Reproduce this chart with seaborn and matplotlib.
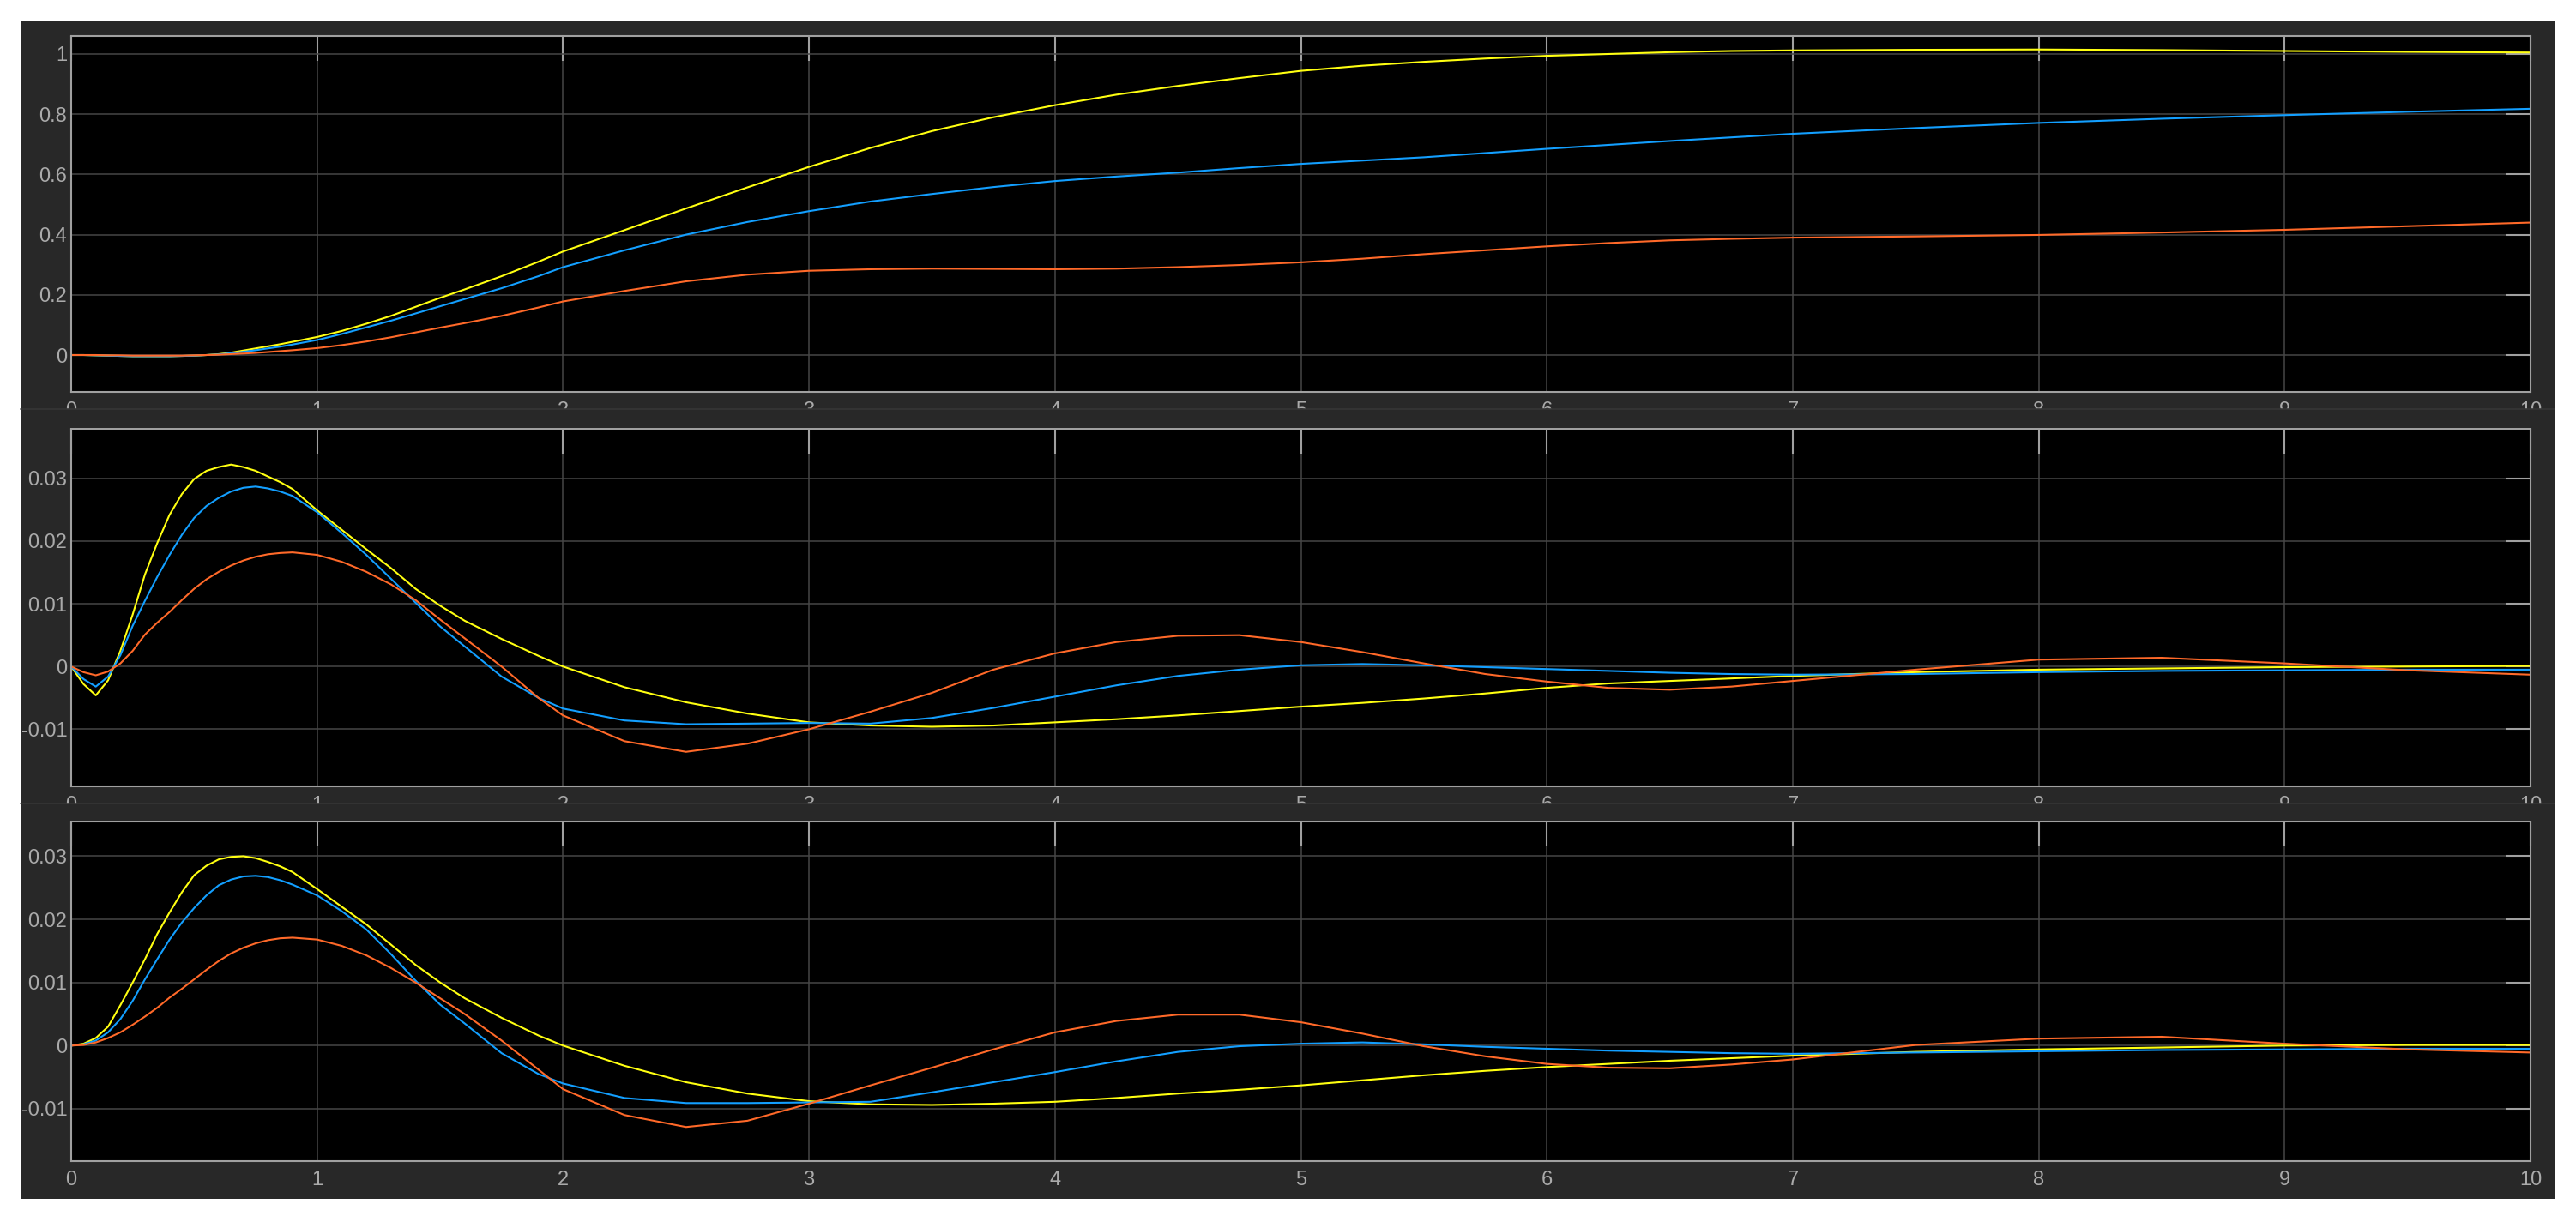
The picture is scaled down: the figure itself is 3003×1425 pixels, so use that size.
import seaborn as sns
import matplotlib.pyplot as plt
from matplotlib.patches import Rectangle
from matplotlib.lines import Line2D

# time axis (s), shared by all three scope panels
time = [0, 0.05, 0.1, 0.15, 0.2, 0.25, 0.3, 0.35, 0.4, 0.45,
        0.5, 0.55, 0.6, 0.65, 0.7, 0.75, 0.8, 0.85, 0.9, 1.0,
        1.1, 1.2, 1.3, 1.4, 1.5, 1.6, 1.75, 1.9, 2.0, 2.25,
        2.5, 2.75, 3.0, 3.25, 3.5, 3.75, 4.0, 4.25, 4.5, 4.75,
        5.0, 5.25, 5.5, 5.75, 6.0, 6.25, 6.5, 6.75, 7.0, 7.5,
        8.0, 8.5, 9.0, 9.5, 10.0]

# top panel
top_yellow = [0, 0, -0.001, -0.002, -0.003, -0.004, -0.004, -0.004, -0.004, -0.003,
              -0.002, 0.0, 0.003, 0.008, 0.015, 0.022, 0.029, 0.036, 0.044, 0.06,
              0.08, 0.104, 0.13, 0.16, 0.19, 0.218, 0.262, 0.31, 0.344, 0.415,
              0.487, 0.557, 0.625, 0.688, 0.744, 0.79, 0.83, 0.865, 0.894, 0.92,
              0.944, 0.961, 0.974, 0.985, 0.994, 1.0, 1.006, 1.01, 1.012, 1.014,
              1.015, 1.013, 1.01, 1.007, 1.005]
top_blue = [0, 0, -0.001, -0.002, -0.003, -0.004, -0.004, -0.004, -0.004, -0.003,
            -0.002, 0.0, 0.002, 0.006, 0.011, 0.016, 0.022, 0.028, 0.035, 0.05,
            0.07, 0.092, 0.114, 0.138, 0.162, 0.186, 0.222, 0.262, 0.292, 0.348,
            0.40, 0.442, 0.478, 0.51, 0.535, 0.558, 0.578, 0.593, 0.606, 0.621,
            0.635, 0.646, 0.657, 0.671, 0.685, 0.698, 0.711, 0.723, 0.735, 0.754,
            0.771, 0.785, 0.797, 0.808, 0.818]
top_orange = [0, 0, 0, -0.001, -0.001, -0.002, -0.002, -0.002, -0.002, -0.002,
              -0.001, 0.0, 0.001, 0.003, 0.005, 0.007, 0.01, 0.013, 0.016, 0.023,
              0.033, 0.045, 0.059, 0.075, 0.091, 0.106, 0.13, 0.158, 0.178, 0.213,
              0.245, 0.267, 0.28, 0.285, 0.287, 0.286, 0.285, 0.287, 0.292, 0.299,
              0.308, 0.32, 0.335, 0.348, 0.361, 0.372, 0.381, 0.386, 0.39, 0.394,
              0.399, 0.407, 0.416, 0.428, 0.44]

# middle panel
mid_yellow = [0, -0.0028, -0.0046, -0.0022, 0.0025, 0.0083, 0.0147, 0.0197, 0.0242, 0.0275,
              0.0299, 0.0312, 0.0318, 0.0322, 0.0318, 0.0312, 0.0303, 0.0294, 0.0283, 0.0249,
              0.0218, 0.0187, 0.0157, 0.0124, 0.0097, 0.0073, 0.0044, 0.0017, 0.0, -0.0033,
              -0.0057, -0.0075, -0.0089, -0.0094, -0.0096, -0.0094, -0.0089, -0.0084, -0.0078, -0.0071,
              -0.0064, -0.0058, -0.0051, -0.0043, -0.0034, -0.0027, -0.0023, -0.0019, -0.0015, -0.0009,
              -0.0005, -0.0003, -0.0001, 0.0, 0.0001]
mid_blue = [0, -0.002, -0.0032, -0.0016, 0.0018, 0.0065, 0.0105, 0.0143, 0.0178, 0.021,
            0.0237, 0.0256, 0.0269, 0.0279, 0.0285, 0.0287, 0.0284, 0.0279, 0.0272, 0.0246,
            0.0213, 0.0178, 0.0140, 0.0102, 0.0064, 0.0032, -0.0016, -0.0050, -0.0067, -0.0086,
            -0.0092, -0.0091, -0.009, -0.0091, -0.0082, -0.0066, -0.0048, -0.003, -0.0015, -0.0005,
            0.0002, 0.0004, 0.0002, -0.0001, -0.0004, -0.0007, -0.001, -0.0012, -0.0013, -0.0012,
            -0.0009, -0.0007, -0.0006, -0.0005, -0.0005]
mid_orange = [0, -0.0009, -0.0014, -0.0008, 0.0005, 0.0025, 0.0051, 0.007, 0.0087, 0.0106,
              0.0124, 0.0139, 0.0151, 0.0161, 0.0169, 0.0175, 0.0179, 0.0181, 0.0182, 0.0178,
              0.0167, 0.0151, 0.0131, 0.0106, 0.0075, 0.0045, 0.0, -0.0050, -0.0078, -0.0119,
              -0.0136, -0.0123, -0.010, -0.0072, -0.0042, -0.0005, 0.0021, 0.0039, 0.0049, 0.0050,
              0.0039, 0.0023, 0.0005, -0.0012, -0.0024, -0.0034, -0.0037, -0.0032, -0.0023, -0.0005,
              0.0011, 0.0014, 0.0005, -0.0006, -0.0013]

# bottom panel
bot_yellow = [0, 0.0003, 0.0012, 0.003, 0.0064, 0.01, 0.0137, 0.0177, 0.0211, 0.0243,
              0.027, 0.0285, 0.0295, 0.0299, 0.03, 0.0297, 0.0291, 0.0284, 0.0275, 0.0248,
              0.022, 0.0192, 0.016, 0.0128, 0.0100, 0.0075, 0.0044, 0.0016, 0.0, -0.0032,
              -0.0058, -0.0076, -0.0088, -0.0093, -0.0094, -0.0092, -0.0089, -0.0083, -0.0076, -0.007,
              -0.0063, -0.0055, -0.0047, -0.004, -0.0034, -0.0029, -0.0024, -0.002, -0.0016, -0.001,
              -0.0006, -0.0003, 0.0, 0.0001, 0.0001]
bot_blue = [0, 0.0002, 0.0008, 0.0021, 0.0042, 0.0071, 0.0105, 0.0137, 0.0168, 0.0195,
            0.0218, 0.0238, 0.0254, 0.0263, 0.0268, 0.0269, 0.0267, 0.0262, 0.0255, 0.0238,
            0.0213, 0.0184, 0.0145, 0.0103, 0.0065, 0.0035, -0.0012, -0.0045, -0.006, -0.0083,
            -0.0091, -0.0091, -0.009, -0.0089, -0.0074, -0.0058, -0.0042, -0.0025, -0.001, -0.0001,
            0.0003, 0.0005, 0.0002, -0.0002, -0.0005, -0.0008, -0.001, -0.0012, -0.0013, -0.0011,
            -0.0009, -0.0007, -0.0006, -0.0005, -0.0005]
bot_orange = [0, 0.0001, 0.0005, 0.0012, 0.0021, 0.0033, 0.0046, 0.006, 0.0076, 0.009,
              0.0105, 0.012, 0.0134, 0.0146, 0.0155, 0.0162, 0.0167, 0.017, 0.0171, 0.0168,
              0.0158, 0.0143, 0.0123, 0.0100, 0.0075, 0.005, 0.0008, -0.0038, -0.0069, -0.011,
              -0.0129, -0.0119, -0.0092, -0.0063, -0.0035, -0.0006, 0.0021, 0.0039, 0.0049, 0.0049,
              0.0037, 0.0019, -0.0001, -0.0017, -0.0029, -0.0035, -0.0036, -0.003, -0.0022, 0.0001,
              0.0011, 0.0014, 0.0003, -0.0006, -0.0011]

x_ticks = list(range(11))
top_yticks = [0, 0.2, 0.4, 0.6, 0.8, 1]
top_ylabels = ["0", "0.2", "0.4", "0.6", "0.8", "1"]
small_yticks = [-0.01, 0, 0.01, 0.02, 0.03]
small_ylabels = ["-0.01", "0", "0.01", "0.02", "0.03"]

# scope look
PANEL = "#282828"
SEP = "#363636"
GRID = "#464646"
EDGE = "#a0a0a0"
TEXT = "#aaaaaa"
colors = ["#FFFF11", "#139FFF", "#FF6929"]

sns.set_style("dark")
plt.rcParams["font.family"] = ["Liberation Sans", "DejaVu Sans"]

W, H = 3003, 1425
fig = plt.figure(figsize=(W / 100, H / 100), dpi=100, facecolor="white")

def fy(px):
    # pixel row (from top) -> figure fraction
    return 1 - px / H

fig.add_artist(Rectangle((24 / W, fy(1398)), (2978 - 24) / W, (1398 - 24) / H,
                         transform=fig.transFigure, facecolor=PANEL,
                         edgecolor="none", zorder=-5))

panels = [
    (42, 457, (-0.1225, 1.0598), top_yticks, top_ylabels, [top_yellow, top_blue, top_orange]),
    (500, 917, (-0.0191, 0.0379), small_yticks, small_ylabels, [mid_yellow, mid_blue, mid_orange]),
    (958, 1354, (-0.0183, 0.0355), small_yticks, small_ylabels, [bot_yellow, bot_blue, bot_orange]),
]

for top, bottom, ylim, yt, yl, series in panels:
    ax = fig.add_axes([83 / W, fy(bottom), (2950 - 83) / W, (bottom - top) / H])
    ax.set_facecolor("black")
    for vals, col in zip(series, colors):
        sns.lineplot(x=time, y=vals, ax=ax, color=col, linewidth=1.5,
                     estimator=None, sort=False, legend=False)
    ax.set_xlim(0, 10)
    ax.set_ylim(*ylim)
    ax.set_xticks(x_ticks)
    ax.set_xticklabels([str(v) for v in x_ticks])
    ax.set_yticks(yt)
    ax.set_yticklabels(yl)
    ax.set_xlabel("")
    ax.set_ylabel("")
    ax.set_axisbelow(True)
    ax.grid(True, color=GRID, linewidth=1.1)
    ax.tick_params(axis="both", direction="in", length=21, width=1.5, color=EDGE,
                   labelcolor=TEXT, labelsize=17, top=True, right=True)
    ax.tick_params(axis="x", pad=8)
    ax.tick_params(axis="y", pad=3.5)
    for s in ax.spines.values():
        s.set_visible(True)
        s.set_color(EDGE)
        s.set_linewidth(1.5)

# the upper two panels cut off their own time labels
for sep, nxt in [(477, 499), (937, 957)]:
    fig.add_artist(Rectangle((24 / W, fy(nxt)), (2978 - 24) / W, (nxt - sep) / H,
                             transform=fig.transFigure, facecolor=PANEL,
                             edgecolor="none", zorder=5))
    fig.add_artist(Line2D([24 / W, 2978 / W], [fy(sep), fy(sep)],
                          transform=fig.transFigure, color=SEP, linewidth=1.2, zorder=6))

fig.savefig("out.png", dpi=100, facecolor="white")
